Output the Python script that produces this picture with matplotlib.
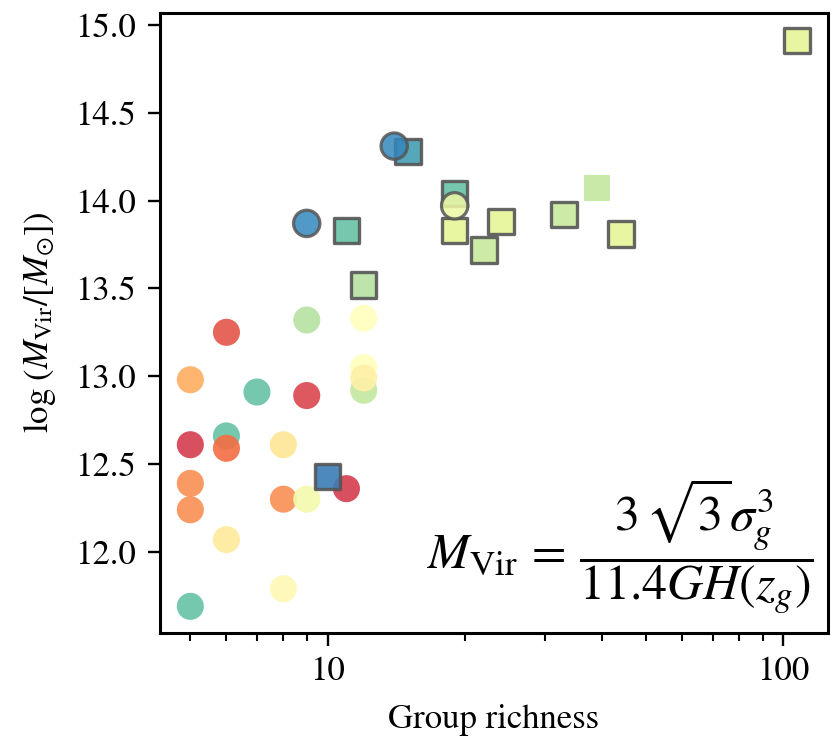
import numpy as np
import matplotlib
matplotlib.use('Agg')
import matplotlib.pyplot as plt
from matplotlib import ticker

fontsize = 25
matplotlib.rcParams.update({'font.size': fontsize,
                            'font.family': 'STIXGeneral',
                            'mathtext.fontset': 'stix'})

# plain circles (no edge)
circ_n = [6, 9, 12, 6, 5, 7, 9, 12, 12, 12, 5, 6, 8, 11, 5, 5, 8, 9, 6, 8, 5]
circ_m = [12.66, 13.32, 13.33, 13.25, 12.98, 12.91, 12.89, 13.05, 12.92, 12.99,
          12.61, 12.59, 12.61, 12.36, 12.39, 12.24, 12.30, 12.30, 12.07, 11.79, 11.69]
circ_c = [0.80, 0.68, 0.50, 0.15, 0.30, 0.80, 0.12, 0.50, 0.66, 0.45,
          0.10, 0.20, 0.42, 0.10, 0.25, 0.25, 0.25, 0.55, 0.43, 0.48, 0.80]

# circles with grey edge
ecirc_n = [14, 9, 19]
ecirc_m = [14.31, 13.87, 13.97]
ecirc_c = [0.90, 0.90, 0.57]

# squares with grey edge
sq_n = [15, 19, 19, 11, 12, 22, 24, 33, 44, 107, 10]
sq_m = [14.28, 14.04, 13.83, 13.83, 13.52, 13.72, 13.88, 13.92, 13.81, 14.91, 12.43]
sq_c = [0.86, 0.80, 0.60, 0.80, 0.68, 0.65, 0.60, 0.65, 0.60, 0.60, 0.92]

# square without edge
nsq_n = [39]
nsq_m = [14.07]
nsq_c = [0.66]

cmap = 'Spectral'
edge = '#555555'

fig = plt.figure(figsize=(8.31, 7.4), dpi=100)
ax = fig.add_axes([0.192, 0.145, 0.804, 0.838])

ax.scatter(circ_n, circ_m, c=circ_c, cmap=cmap, vmin=0, vmax=1, s=380,
           marker='o', linewidths=0, alpha=0.9, zorder=2)
ax.scatter(nsq_n, nsq_m, c=nsq_c, cmap=cmap, vmin=0, vmax=1, s=360,
           marker='s', linewidths=0, alpha=0.9, zorder=3)
ax.scatter(sq_n, sq_m, c=sq_c, cmap=cmap, vmin=0, vmax=1, s=340,
           marker='s', edgecolors=edge, linewidths=2.4, alpha=0.9, zorder=3)
ax.scatter(ecirc_n, ecirc_m, c=ecirc_c, cmap=cmap, vmin=0, vmax=1, s=360,
           marker='o', edgecolors=edge, linewidths=2.3, alpha=0.85, zorder=4)

ax.set_xscale('log')
ax.set_xlim(4.28, 125)
ax.set_ylim(11.54, 15.07)
ax.set_yticks([12.0, 12.5, 13.0, 13.5, 14.0, 14.5, 15.0])
ax.xaxis.set_major_formatter(ticker.ScalarFormatter())
ax.xaxis.set_minor_formatter(ticker.NullFormatter())

for sp in ax.spines.values():
    sp.set_linewidth(2.2)
ax.tick_params(which='major', length=9, width=1.7, pad=8)
ax.tick_params(which='minor', length=5.5, width=1.5)

ax.set_xlabel('Group richness', labelpad=11)
ax.set_ylabel(r'$\log\,(M_{\rm Vir}/[M_{\odot}])$', labelpad=12)

ax.text(0.978, 0.14, r'$M_{\rm Vir}\, =\, \dfrac{3\,\sqrt{3}\sigma_g^3}{11.4GH(z_g)}$',
        transform=ax.transAxes, ha='right', va='center', fontsize=36)

fig.savefig('out.png', dpi=100)
